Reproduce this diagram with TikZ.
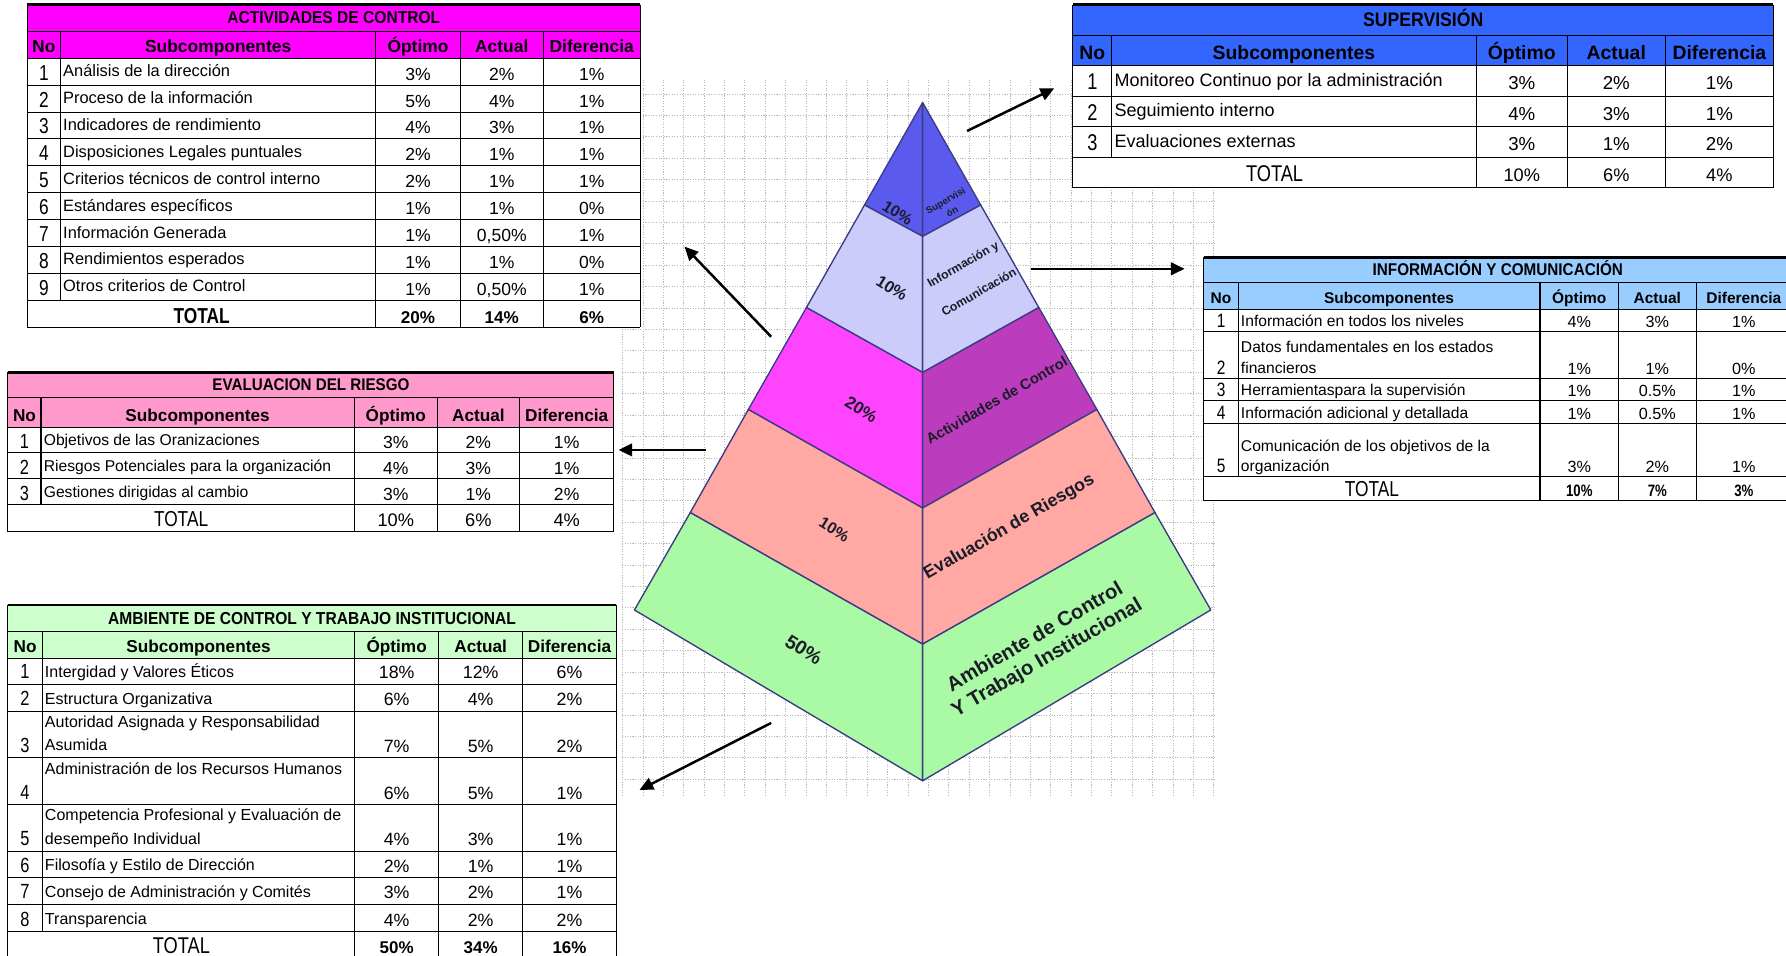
\documentclass[tikz,border=0pt]{standalone}
\usepackage{fontspec}
\setmainfont{Liberation Sans}
\newfontfamily\narrowfam{Liberation Sans}[FakeStretch=0.8]
\newfontfamily\condfam{Liberation Sans}[FakeStretch=0.9]
\usetikzlibrary{arrows.meta}

% header fills
\definecolor{hdrmag}{RGB}{255,0,255}
\definecolor{hdrblue}{RGB}{51,102,255}
\definecolor{hdrlblue}{RGB}{153,204,255}
\definecolor{hdrpink}{RGB}{255,153,204}
\definecolor{hdrgreen}{RGB}{204,255,204}
% pyramid faces
\definecolor{pysup}{RGB}{90,90,238}
\definecolor{pyinfo}{RGB}{204,204,250}
\definecolor{pyactl}{RGB}{255,68,255}
\definecolor{pyactr}{RGB}{188,60,190}
\definecolor{pyeval}{RGB}{255,168,164}
\definecolor{pyamb}{RGB}{170,250,165}
\definecolor{pyedge}{RGB}{60,60,130}
\definecolor{pytext}{RGB}{28,28,40}

\newcommand\fsz[1]{\fontsize{#1}{#1}\selectfont}

% table helpers: column edges \cA..\cF and fonts are set per table
\newcommand\tabgrid[5]{%
  \draw[tline] (\cA,#2) -- (\cF,#2);
  \foreach \yy in {#5} {\draw[tline] (\cA,\yy) -- (\cF,\yy);}
  \draw[tline] (\cB,#2) -- (\cB,#3);
  \foreach \xx in {\cC,\cD,\cE} {\draw[tline] (\xx,#2) -- (\xx,#4);}
  \draw[tline] (\cA,#1) -- (\cA,#4);
  \draw[tline] (\cF,#1) -- (\cF,#4);
  \draw[tline] (\cA,#4) -- (\cF,#4);
  \draw[topline] (\cA,#1) -- (\cF,#1);
}
\newcommand\headrow[2]{%
  \node[cell,anchor=base] (#1-hno) at ({(\cA+\cB)/2},#2) {\hdfont No};
  \node[cell,anchor=base] (#1-hsub) at ({(\cB+\cC)/2},#2) {\hdfont Subcomponentes};
  \node[cell,anchor=base] (#1-hopt) at ({(\cC+\cD)/2},#2) {\hdfont Óptimo};
  \node[cell,anchor=base] (#1-hact) at ({(\cD+\cE)/2},#2) {\hdfont Actual};
  \node[cell,anchor=base] (#1-hdif) at ({(\cE+\cF)/2},#2) {\hdfont Diferencia};
}
\newcommand\datrow[7]{%
  \node[cell,anchor=base] (#1-no) at ({(\cA+\cB)/2},{#2-\dNo}) {\nofont #3};
  \node[cell,anchor=base west] (#1-sub) at ({\cB+2.5},{#2-\dSub}) {\dtfont #4};
  \node[cell,anchor=base] (#1-opt) at ({(\cC+\cD)/2},{#2-\dNo}) {\vlfont #5};
  \node[cell,anchor=base] (#1-act) at ({(\cD+\cE)/2},{#2-\dNo}) {\vlfont #6};
  \node[cell,anchor=base] (#1-dif) at ({(\cE+\cF)/2},{#2-\dNo}) {\vlfont #7};
}
\newcommand\totrow[5]{%
  \node[cell,anchor=base] (#1-tot) at ({(\cA+\cC)/2},{#2-\dTot}) {\ttfont TOTAL};
  \node[cell,anchor=base] (#1-topt) at ({(\cC+\cD)/2},{#2-\dTot}) {\tvfont #3};
  \node[cell,anchor=base] (#1-tact) at ({(\cD+\cE)/2},{#2-\dTot}) {\tvfont #4};
  \node[cell,anchor=base] (#1-tdif) at ({(\cE+\cF)/2},{#2-\dTot}) {\tvfont #5};
}

\begin{document}
\begin{tikzpicture}[x=1pt,y=-1pt,
  tline/.style={line width=0.9pt,black},
  topline/.style={line width=2pt,black},
  cell/.style={inner sep=0pt,outer sep=0pt},
  gridl/.style={gray!55,line width=0.8pt,dash pattern=on 1pt off 1.3pt},
  face/.style={draw=pyedge,line width=1.2pt,line join=round},
  pyr/.style={inner sep=0pt,text=pytext,font=\bfseries},
  arr/.style={line width=2.2pt,-{Triangle[length=12pt,width=11pt]}}]

\useasboundingbox (0,0) rectangle (1568,839);
\fill[white] (0,0) rectangle (1568,839);

% spreadsheet grid behind the pyramid
\begin{scope}
  \clip (546,70) rectangle (1068,700);
  \foreach \gx in {0,...,29} {\draw[gridl] ({546.6+17.9*\gx},70) -- ({546.6+17.9*\gx},700);}
  \foreach \gy in {0,...,34} {\draw[gridl] (546,{63.7+18.8*\gy}) -- (1068,{63.7+18.8*\gy});}
\end{scope}

% ---------------- ACTIVIDADES DE CONTROL ----------------
\def\cA{24}\def\cB{53}\def\cC{330}\def\cD{404}\def\cE{477}\def\cF{562}
\def\dSub{7.4}\def\dNo{4.4}\def\dTot{3}
\def\tifont{\condfam\bfseries\fsz{15.2}}
\def\hdfont{\bfseries\fsz{15.3}}
\def\dtfont{\fsz{14.4}}
\def\vlfont{\fsz{15.4}}
\def\nofont{\narrowfam\fsz{19}}
\def\ttfont{\narrowfam\bfseries\fsz{19}}
\def\tvfont{\bfseries\fsz{15}}
\fill[white] (\cA,4) rectangle (\cF,287.2);
\fill[hdrmag] (\cA,4) rectangle (\cF,51.2);
\tabgrid{4}{27.6}{263.6}{287.2}{51.2,74.8,98.4,122,145.6,169.2,192.8,216.4,240,263.6}
\node[cell,anchor=base] (act-title) at ({(\cA+\cF)/2},20.8) {\tifont ACTIVIDADES DE CONTROL};
\headrow{act}{46.4}
\datrow{act1}{74.8}{1}{Análisis de la dirección}{3\%}{2\%}{1\%}
\datrow{act2}{98.4}{2}{Proceso de la información}{5\%}{4\%}{1\%}
\datrow{act3}{122}{3}{Indicadores de rendimiento}{4\%}{3\%}{1\%}
\datrow{act4}{145.6}{4}{Disposiciones Legales puntuales}{2\%}{1\%}{1\%}
\datrow{act5}{169.2}{5}{Criterios técnicos de control interno}{2\%}{1\%}{1\%}
\datrow{act6}{192.8}{6}{Estándares específicos}{1\%}{1\%}{0\%}
\datrow{act7}{216.4}{7}{Información Generada}{1\%}{0,50\%}{1\%}
\datrow{act8}{240}{8}{Rendimientos esperados}{1\%}{1\%}{0\%}
\datrow{act9}{263.6}{9}{Otros criterios de Control}{1\%}{0,50\%}{1\%}
\totrow{act}{287.2}{20\%}{14\%}{6\%}

% ---------------- SUPERVISIÓN ----------------
\def\cA{942}\def\cB{976}\def\cC{1296}\def\cD{1376}\def\cE{1462}\def\cF{1557}
\def\dSub{8.5}\def\dNo{5.5}\def\dTot{5.3}
\def\tifont{\condfam\bfseries\fsz{17.2}}
\def\hdfont{\bfseries\fsz{17}}
\def\dtfont{\fsz{15.8}}
\def\vlfont{\fsz{16.4}}
\def\nofont{\narrowfam\fsz{20}}
\def\ttfont{\narrowfam\fsz{20}}
\def\tvfont{\fsz{16}}
\fill[white] (\cA,4) rectangle (\cF,164.8);
\fill[hdrblue] (\cA,4) rectangle (\cF,57.6);
\tabgrid{4}{30.8}{138}{164.8}{57.6,84.4,111.2,138}
\node[cell,anchor=base] (sup-title) at ({(\cA+\cF)/2},23.6) {\tifont SUPERVISIÓN};
\headrow{sup}{51.8}
\datrow{sup1}{84.4}{1}{Monitoreo Continuo por la administración}{3\%}{2\%}{1\%}
\datrow{sup2}{111.2}{2}{Seguimiento interno}{4\%}{3\%}{1\%}
\datrow{sup3}{138}{3}{Evaluaciones externas}{3\%}{1\%}{2\%}
\totrow{sup}{164.8}{10\%}{6\%}{4\%}

% ---------------- INFORMACIÓN Y COMUNICACIÓN ----------------
\def\cA{1057}\def\cB{1087}\def\cC{1352}\def\cD{1421}\def\cE{1489}\def\cF{1573}
\def\dSub{4.5}\def\dNo{3.5}\def\dTot{3.5}
\def\tifont{\condfam\bfseries\fsz{14.9}}
\def\hdfont{\bfseries\fsz{13.6}}
\def\dtfont{\fsz{13.7}}
\def\vlfont{\fsz{14.2}}
\def\nofont{\narrowfam\fsz{17}}
\def\ttfont{\narrowfam\fsz{19}}
\def\tvfont{\narrowfam\bfseries\fsz{14.5}}
\fill[white] (\cA,226) rectangle (\cF,439.6);
\fill[hdrlblue] (\cA,226) rectangle (\cF,271.6);
\tabgrid{226}{248}{418.5}{439.6}{271.6,291,332,351.8,372,418.5}
\node[cell,anchor=base] (inf-title) at ({(\cA+\cF)/2},241.5) {\tifont INFORMACIÓN Y COMUNICACIÓN};
\headrow{inf}{266.8}
\datrow{inf1}{291}{1}{Información en todos los niveles}{4\%}{3\%}{1\%}
\node[cell,anchor=base west] (inf2-sub1) at ({\cB+2.5},{332-4.5-18}) {\dtfont Datos fundamentales en los estados};
\datrow{inf2}{332}{2}{financieros}{1\%}{1\%}{0\%}
\datrow{inf3}{351.8}{3}{Herramientaspara la supervisión}{1\%}{0.5\%}{1\%}
\datrow{inf4}{372}{4}{Información adicional y detallada}{1\%}{0.5\%}{1\%}
\node[cell,anchor=base west] (inf5-sub1) at ({\cB+2.5},{418.5-4.5-18}) {\dtfont Comunicación de los objetivos de la};
\datrow{inf5}{418.5}{5}{organización}{3\%}{2\%}{1\%}
\totrow{inf}{439.6}{10\%}{7\%}{3\%}

% ---------------- EVALUACION DEL RIESGO ----------------
\def\cA{7}\def\cB{36}\def\cC{311}\def\cD{384}\def\cE{456}\def\cF{539}
\def\dSub{5.9}\def\dNo{3.5}\def\dTot{5}
\def\tifont{\condfam\bfseries\fsz{14.8}}
\def\hdfont{\bfseries\fsz{15.1}}
\def\dtfont{\fsz{13.75}}
\def\vlfont{\fsz{15.4}}
\def\nofont{\narrowfam\fsz{18}}
\def\ttfont{\narrowfam\fsz{19}}
\def\tvfont{\fsz{16}}
\fill[white] (\cA,327) rectangle (\cF,467);
\fill[hdrpink] (\cA,327) rectangle (\cF,375);
\tabgrid{327}{349}{443}{467}{375,397,420,443}
\node[cell,anchor=base] (eva-title) at ({(\cA+\cF)/2},342.5) {\tifont EVALUACION DEL RIESGO};
\headrow{eva}{370}
\datrow{eva1}{397}{1}{Objetivos de las Oranizaciones}{3\%}{2\%}{1\%}
\datrow{eva2}{420}{2}{Riesgos Potenciales para la organización}{4\%}{3\%}{1\%}
\datrow{eva3}{443}{3}{Gestiones dirigidas al cambio}{3\%}{1\%}{2\%}
\totrow{eva}{467}{10\%}{6\%}{4\%}

% ---------------- AMBIENTE DE CONTROL Y TRABAJO INSTITUCIONAL ----------------
\def\cA{7}\def\cB{37}\def\cC{311.5}\def\cD{385}\def\cE{459}\def\cF{541}
\def\dSub{6}\def\dNo{4.5}\def\dTot{3.5}
\def\tifont{\condfam\bfseries\fsz{15.2}}
\def\hdfont{\bfseries\fsz{15.1}}
\def\dtfont{\fsz{14.05}}
\def\vlfont{\fsz{15.6}}
\def\nofont{\narrowfam\fsz{18}}
\def\ttfont{\narrowfam\fsz{20}}
\def\tvfont{\bfseries\fsz{14.9}}
\fill[white] (\cA,531) rectangle (\cF,841);
\fill[hdrgreen] (\cA,531) rectangle (\cF,578);
\tabgrid{531}{554.6}{817.5}{841}{578,600.6,624.3,665.2,706.2,747.2,770.6,793.7,817.5}
\node[cell,anchor=base] (amb-title) at ({(\cA+\cF)/2},548.1) {\tifont AMBIENTE DE CONTROL Y TRABAJO INSTITUCIONAL};
\headrow{amb}{573}
\datrow{amb1}{600.6}{1}{Intergidad y Valores Éticos}{18\%}{12\%}{6\%}
\datrow{amb2}{624.3}{2}{Estructura Organizativa}{6\%}{4\%}{2\%}
\node[cell,anchor=base west] (amb3-sub1) at ({\cB+2.5},{665.2-6-20.5}) {\dtfont Autoridad Asignada y Responsabilidad};
\datrow{amb3}{665.2}{3}{Asumida}{7\%}{5\%}{2\%}
\node[cell,anchor=base west] (amb4-sub1) at ({\cB+2.5},{706.2-6-20.5}) {\dtfont Administración de los Recursos Humanos};
\datrow{amb4}{706.2}{4}{}{6\%}{5\%}{1\%}
\node[cell,anchor=base west] (amb5-sub1) at ({\cB+2.5},{747.2-6-20.5}) {\dtfont Competencia Profesional y Evaluación de};
\datrow{amb5}{747.2}{5}{desempeño Individual}{4\%}{3\%}{1\%}
\datrow{amb6}{770.6}{6}{Filosofía y Estilo de Dirección}{2\%}{1\%}{1\%}
\datrow{amb7}{793.7}{7}{Consejo de Administración y Comités}{3\%}{2\%}{1\%}
\datrow{amb8}{817.5}{8}{Transparencia}{4\%}{2\%}{2\%}
\totrow{amb}{841}{50\%}{34\%}{16\%}

% ---------------- pyramid ----------------
\coordinate (A) at (810,90);
\coordinate (L1) at (759,180);   \coordinate (C1) at (810,207.5); \coordinate (R1) at (861,180);
\coordinate (L2) at (708,270);   \coordinate (C2) at (810,327);   \coordinate (R2) at (912,270);
\coordinate (L3) at (657,359.5); \coordinate (C3) at (810,446);   \coordinate (R3) at (963,359.5);
\coordinate (L4) at (606,450);   \coordinate (C4) at (810,565.5); \coordinate (R4) at (1014,450);
\coordinate (L5) at (557,535.5); \coordinate (C5) at (810,685.5); \coordinate (R5) at (1063,535.5);

\filldraw[face,fill=pysup]  (A) -- (L1) -- (C1) -- cycle;
\filldraw[face,fill=pysup]  (A) -- (C1) -- (R1) -- cycle;
\filldraw[face,fill=pyinfo] (L1) -- (L2) -- (C2) -- (C1) -- cycle;
\filldraw[face,fill=pyinfo] (C1) -- (C2) -- (R2) -- (R1) -- cycle;
\filldraw[face,fill=pyactl] (L2) -- (L3) -- (C3) -- (C2) -- cycle;
\filldraw[face,fill=pyactr] (C2) -- (C3) -- (R3) -- (R2) -- cycle;
\filldraw[face,fill=pyeval] (L3) -- (L4) -- (C4) -- (C3) -- cycle;
\filldraw[face,fill=pyeval] (C3) -- (C4) -- (R4) -- (R3) -- cycle;
\filldraw[face,fill=pyamb]  (L4) -- (L5) -- (C5) -- (C4) -- cycle;
\filldraw[face,fill=pyamb]  (C4) -- (C5) -- (R5) -- (R4) -- cycle;

% percentages on the left faces
\node[pyr,rotate=-32] (p-sup)  at (788,187)   {\fsz{14}10\%};
\node[pyr,rotate=-32] (p-info) at (783,253)   {\fsz{14.5}10\%};
\node[pyr,rotate=-32] (p-act)  at (756,359.6) {\fsz{15}20\%};
\node[pyr,rotate=-32] (p-eval) at (732.5,465) {\fsz{14}10\%};
\node[pyr,rotate=-32] (p-amb)  at (705.6,570.4) {\fsz{17}50\%};

% names on the right faces
\node[pyr,rotate=30,align=center,font=\bfseries\fontsize{8.5}{11.3}\selectfont]
  (n-sup) at (833,181) {Supervisi\\ón};
\node[pyr,rotate=30,align=center,font=\bfseries\fontsize{10.7}{28}\selectfont]
  (n-info) at (852.3,244) {Información y\\Comunicación};
\node[pyr,rotate=30] (n-act)   at (875,351.5)   {\fsz{12.9}Actividades de Control};
\node[pyr,rotate=30] (n-eval)  at (886,463)     {\fsz{15.6}Evaluación de Riesgos};
\node[pyr,rotate=30,align=center,font=\bfseries\fontsize{17.8}{21}\selectfont]
  (n-amb) at (914.2,569) {Ambiente de Control\\Y Trabajo Institucional};

% ---------------- arrows to the tables ----------------
\coordinate (supA) at (849,115);   \coordinate (supB) at (925.5,77.6);
\coordinate (infA) at (905,236);   \coordinate (infB) at (1040,236);
\coordinate (actA) at (677,295.6); \coordinate (actB) at (601,216.5);
\coordinate (evaA) at (620,395);   \coordinate (evaB) at (543,395);
\coordinate (ambA) at (677,634.7); \coordinate (ambB) at (561.5,693.5);
\draw[arr] (supA) -- (supB);
\draw[arr] (infA) -- (infB);
\draw[arr] (actA) -- (actB);
\draw[arr] (evaA) -- (evaB);
\draw[arr] (ambA) -- (ambB);
\end{tikzpicture}
\end{document}
